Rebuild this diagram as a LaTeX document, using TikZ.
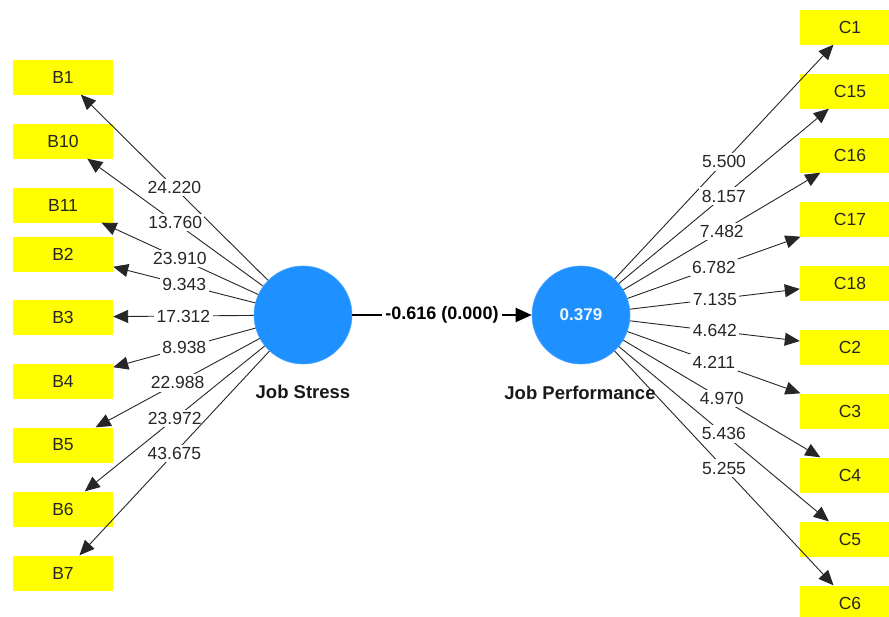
\documentclass[tikz,border=0pt]{standalone}
\usepackage{fontspec}
\setmainfont{Liberation Sans}
\usetikzlibrary{arrows.meta}
\definecolor{lvblue}{RGB}{30,144,255}
\definecolor{indyellow}{RGB}{255,255,0}
\tikzset{
  indbox/.style={fill=indyellow, minimum width=100pt, minimum height=35pt, inner sep=0pt,
                 text=black!85, font=\fontsize{17.5}{19}\selectfont},
  latent/.style={circle, fill=lvblue, draw=lvblue!80!white, line width=0.6pt,
                 minimum size=98pt, inner sep=0pt, text=white!92!lvblue,
                 font=\bfseries\fontsize{17}{19}\selectfont},
  lvname/.style={text=black!90, font=\bfseries\fontsize{18.5}{20}\selectfont},
  loading/.style={draw=black!85, line width=0.9pt, -{Triangle[length=15pt,width=13pt]}},
  weight/.style={fill=white, inner sep=2.5pt, text=black!85, font=\fontsize{17.5}{19}\selectfont},
  structural/.style={draw=black, line width=2pt, -{Triangle[length=16pt,width=14pt]}},
  coef/.style={fill=white, inner sep=3pt, text=black, font=\bfseries\fontsize{18}{20}\selectfont}
}
\begin{document}
\begin{tikzpicture}[x=1pt,y=-1pt]
\useasboundingbox (0,0) rectangle (889,616);
\fill[white] (0,0) rectangle (889,616);
\clip (0,0) rectangle (889,616);

% latent variables
\node[latent] (js) at (303,315) {};
\node[latent] (jp) at (581,315) {0.379};
\node[lvname] (jsl) at (303,392) {Job Stress};
\node[lvname] (jpl) at (580,393) {Job Performance};

% Job Stress indicators
\node[indbox] (b1)  at (63,77)  {B1};
\node[indbox] (b10) at (63,141) {B10};
\node[indbox] (b11) at (63,205) {B11};
\node[indbox] (b2)  at (63,254) {B2};
\node[indbox] (b3)  at (63,317) {B3};
\node[indbox] (b4)  at (63,381) {B4};
\node[indbox] (b5)  at (63,445) {B5};
\node[indbox] (b6)  at (63,509) {B6};
\node[indbox] (b7)  at (63,573) {B7};

% Job Performance indicators
\node[indbox] (c1)  at (850,27)  {C1};
\node[indbox] (c15) at (850,91)  {C15};
\node[indbox] (c16) at (850,155) {C16};
\node[indbox] (c17) at (850,219) {C17};
\node[indbox] (c18) at (850,283) {C18};
\node[indbox] (c2)  at (850,347) {C2};
\node[indbox] (c3)  at (850,411) {C3};
\node[indbox] (c4)  at (850,475) {C4};
\node[indbox] (c5)  at (850,539) {C5};
\node[indbox] (c6)  at (850,603) {C6};

% outer loadings, Job Stress
\draw[loading] (js) -- node[weight] {24.220} (b1);
\draw[loading] (js) -- node[weight] {13.760} (b10);
\draw[loading] (js) -- node[weight] {23.910} (b11);
\draw[loading] (js) -- node[weight] {9.343}  (b2);
\draw[loading] (js) -- node[weight] {17.312} (b3);
\draw[loading] (js) -- node[weight] {8.938}  (b4);
\draw[loading] (js) -- node[weight] {22.988} (b5);
\draw[loading] (js) -- node[weight] {23.972} (b6);
\draw[loading] (js) -- node[weight] {43.675} (b7);

% outer loadings, Job Performance
\draw[loading] (jp) -- node[weight] {5.500} (c1);
\draw[loading] (jp) -- node[weight] {8.157} (c15);
\draw[loading] (jp) -- node[weight] {7.482} (c16);
\draw[loading] (jp) -- node[weight] {6.782} (c17);
\draw[loading] (jp) -- node[weight] {7.135} (c18);
\draw[loading] (jp) -- node[weight] {4.642} (c2);
\draw[loading] (jp) -- node[weight] {4.211} (c3);
\draw[loading] (jp) -- node[weight] {4.970} (c4);
\draw[loading] (jp) -- node[weight] {5.436} (c5);
\draw[loading] (jp) -- node[weight] {5.255} (c6);

% structural path
\draw[structural] (js) -- node[coef] {-0.616 (0.000)} (jp);
\end{tikzpicture}
\end{document}
